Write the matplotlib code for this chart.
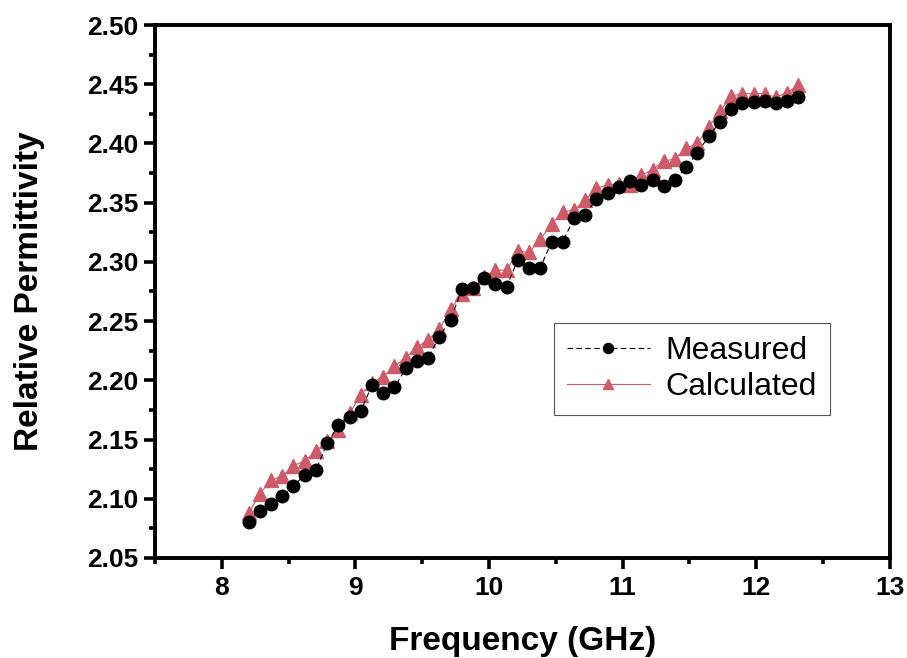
import matplotlib
matplotlib.use("Agg")
import matplotlib.pyplot as plt
from matplotlib.ticker import MultipleLocator

plt.rcParams['font.family'] = ['Liberation Sans', 'DejaVu Sans']

# frequency points (GHz)
freq = [8.200, 8.284, 8.368, 8.452, 8.536, 8.620, 8.704, 8.788, 8.872, 8.956,
        9.040, 9.124, 9.208, 9.292, 9.376, 9.460, 9.544, 9.628, 9.712, 9.796,
        9.880, 9.964, 10.048, 10.132, 10.216, 10.300, 10.384, 10.468, 10.552, 10.636,
        10.720, 10.804, 10.888, 10.972, 11.056, 11.140, 11.224, 11.308, 11.392, 11.476,
        11.560, 11.644, 11.728, 11.812, 11.896, 11.980, 12.064, 12.148, 12.232, 12.316]

measured = [2.080, 2.090, 2.096, 2.102, 2.111, 2.120, 2.124, 2.147, 2.162, 2.169,
            2.174, 2.196, 2.189, 2.194, 2.210, 2.216, 2.219, 2.237, 2.251, 2.277,
            2.278, 2.286, 2.281, 2.279, 2.302, 2.295, 2.295, 2.317, 2.317, 2.337,
            2.340, 2.353, 2.358, 2.363, 2.368, 2.365, 2.369, 2.364, 2.369, 2.380,
            2.392, 2.406, 2.418, 2.429, 2.434, 2.435, 2.436, 2.434, 2.436, 2.439]

calculated = [2.088, 2.104, 2.116, 2.119, 2.128, 2.132, 2.140, 2.149, 2.158, 2.172,
              2.188, 2.198, 2.203, 2.212, 2.219, 2.228, 2.234, 2.243, 2.260, 2.273,
              2.278, 2.287, 2.293, 2.293, 2.309, 2.308, 2.319, 2.332, 2.342, 2.344,
              2.352, 2.362, 2.365, 2.366, 2.365, 2.373, 2.378, 2.385, 2.387, 2.396,
              2.400, 2.414, 2.427, 2.440, 2.442, 2.442, 2.442, 2.439, 2.443, 2.449]

red = '#cf5a68'

fig = plt.figure(figsize=(9.07, 6.58), dpi=100)
ax = fig.add_axes([0.171, 0.152, 0.810, 0.810])

ax.plot(freq, measured, color='black', lw=0.8, ls=(0, (5, 3)), marker='o',
        markersize=9, markerfacecolor='black', markeredgecolor='black',
        label='Measured', zorder=3)
ax.plot(freq, calculated, color=red, lw=0.8, marker='^', markersize=9.5,
        markerfacecolor=red, markeredgecolor=red, label='Calculated', zorder=2)

ax.set_xlim(7.5, 13)
ax.set_ylim(2.05, 2.50)
ax.xaxis.set_major_locator(MultipleLocator(1))
ax.xaxis.set_minor_locator(MultipleLocator(0.5))
ax.yaxis.set_major_locator(MultipleLocator(0.05))
ax.yaxis.set_minor_locator(MultipleLocator(0.025))
ax.yaxis.set_major_formatter(plt.FormatStrFormatter('%.2f'))

for sp in ax.spines.values():
    sp.set_linewidth(2.8)
ax.tick_params(which='major', direction='out', length=8, width=2.6,
               labelsize=19)
ax.tick_params(which='minor', direction='out', length=4.5, width=2.6)
ax.tick_params(axis='x', which='major', pad=5)
ax.tick_params(axis='y', which='major', pad=4)
for lab in ax.get_xticklabels() + ax.get_yticklabels():
    lab.set_fontweight('bold')

ax.set_xlabel('Frequency (GHz)', fontsize=24, fontweight='bold', labelpad=19)
ax.set_ylabel('Relative Permittivity', fontsize=24, fontweight='bold', labelpad=30)

leg = ax.legend(loc='upper left', bbox_to_anchor=(0.543, 0.441), fontsize=23,
                frameon=True, fancybox=False, edgecolor='#555555', framealpha=1,
                handlelength=2.6, handletextpad=0.5, borderpad=0.4,
                labelspacing=0.2, markerscale=0.8, borderaxespad=0)
leg.get_frame().set_linewidth(0.8)
leg.set_zorder(5)

fig.savefig('out.png', dpi=100)
